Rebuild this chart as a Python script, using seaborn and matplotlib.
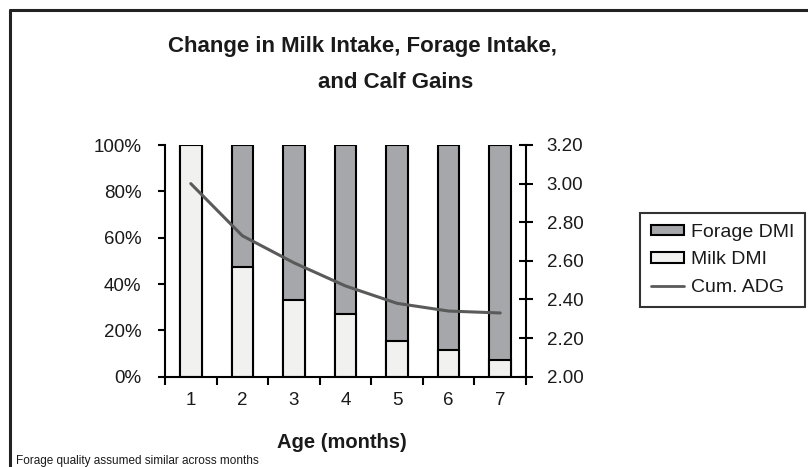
import matplotlib
matplotlib.use("Agg")
import matplotlib.pyplot as plt
import seaborn as sns
import pandas as pd
import numpy as np
from matplotlib.patches import Patch
from matplotlib.lines import Line2D

ages = ["1", "2", "3", "4", "5", "6", "7"]
milk_pct = [100, 47.5, 33, 27, 15.5, 11.5, 7]
forage_pct = [0, 52.5, 67, 73, 84.5, 88.5, 93]
cum_adg = [3.00, 2.73, 2.59, 2.47, 2.38, 2.34, 2.33]
left_ticks = [0, 20, 40, 60, 80, 100]
left_labels = ["0%", "20%", "40%", "60%", "80%", "100%"]
right_ticks = [2.00, 2.20, 2.40, 2.60, 2.80, 3.00, 3.20]

sns.set_theme(style="white")
plt.rcParams['font.family'] = ['Liberation Sans', 'DejaVu Sans']

TXT = "#1a1a1a"
FORAGE_C = "#a6a7aa"
MILK_C = "#f1f2f0"
LINE_C = "#5a5a5a"

df = pd.DataFrame({"age": ages, "milk": milk_pct, "forage": forage_pct, "adg": cum_adg})
df["total"] = df["milk"] + df["forage"]
df["pos"] = np.arange(len(ages))

fig = plt.figure(figsize=(8.08, 4.67), dpi=100)
W, H = 808, 467
ax = fig.add_axes([165 / W, (H - 376.7) / H, (526 - 165) / W, (376.7 - 145) / H])

sns.barplot(data=df, x="age", y="total", color=FORAGE_C, width=0.42,
            edgecolor="black", linewidth=1.5, ax=ax, saturation=1)
sns.barplot(data=df, x="age", y="milk", color=MILK_C, width=0.42,
            edgecolor="black", linewidth=1.5, ax=ax, saturation=1)

ax.set_ylim(0, 100)
ax.set_xlim(-0.5, len(ages) - 0.5)
ax.set_yticks(left_ticks)
ax.set_yticklabels(left_labels, fontsize=13.5, color=TXT)
ax.set_xticks(np.arange(-0.5, len(ages)), minor=False)
ax.set_xticklabels([])
ax.set_xticks(np.arange(len(ages)), minor=True)
ax.set_xticklabels(ages, minor=True, fontsize=13.5, color=TXT)
ax.tick_params(axis="x", which="major", direction="out", length=6, width=1.5, color="black", bottom=True)
ax.tick_params(axis="x", which="minor", length=0, pad=11, bottom=True)
ax.tick_params(axis="y", direction="out", length=5, width=1.5, color="black", pad=12, left=True)
ax.set_xlabel("")
ax.set_ylabel("")
for s in ["left", "bottom"]:
    ax.spines[s].set_visible(True)
    ax.spines[s].set_color("black")
    ax.spines[s].set_linewidth(1.5)
ax.spines["top"].set_visible(False)
ax.spines["right"].set_visible(False)

ax2 = ax.twinx()
sns.lineplot(data=df, x="pos", y="adg", color=LINE_C, linewidth=2.2, ax=ax2)
ax2.set_ylim(2.0, 3.2)
ax2.set_xlim(-0.5, len(ages) - 0.5)
ax2.set_yticks(right_ticks)
ax2.set_yticklabels([f"{v:.2f}" for v in right_ticks], fontsize=13.5, color=TXT)
ax2.tick_params(axis="y", direction="inout", length=10, width=1.5, color="black", pad=10, right=True)
ax2.set_ylabel("")
ax2.set_xlabel("")
ax2.spines["right"].set_visible(True)
ax2.spines["right"].set_color("black")
ax2.spines["right"].set_linewidth(1.5)
for s in ["top", "left", "bottom"]:
    ax2.spines[s].set_visible(False)

fig.text(168 / W, 1 - 52 / H, "Change in Milk Intake, Forage Intake,", fontsize=16,
         fontweight="bold", color=TXT, ha="left", va="baseline")
fig.text(318 / W, 1 - 88 / H, "and Calf Gains", fontsize=16,
         fontweight="bold", color=TXT, ha="left", va="baseline")
fig.text(342 / W, 1 - 443 / H, "Age (months)", fontsize=14.5, fontweight="bold",
         color=TXT, ha="center", va="center")
fig.text(16 / W, 1 - 464 / H, "Forage quality assumed similar across months", fontsize=8.5,
         color=TXT, ha="left", va="baseline")

handles = [Patch(facecolor=FORAGE_C, edgecolor="black", linewidth=1.5),
           Patch(facecolor=MILK_C, edgecolor="black", linewidth=1.5),
           Line2D([0], [0], color=LINE_C, linewidth=2)]
leg = fig.legend(handles, ["Forage DMI", "Milk DMI", "Cum. ADG"],
                 loc="upper left", bbox_to_anchor=(640 / W, 1 - 213 / H),
                 fontsize=14, frameon=True, fancybox=False, borderpad=0.55,
                 handlelength=1.7, handleheight=0.45, handletextpad=0.35,
                 labelspacing=0.55, borderaxespad=0)
leg.get_frame().set_edgecolor("black")
leg.get_frame().set_linewidth(1.5)
for t in leg.get_texts():
    t.set_color(TXT)

# figure border lines (top and left)
fig.add_artist(Line2D([9.5 / W, 1.0], [1 - 9.5 / H, 1 - 9.5 / H], color="#222222", linewidth=2.2,
                      transform=fig.transFigure))
fig.add_artist(Line2D([9.5 / W, 9.5 / W], [1 - 9.5 / H, 0], color="#222222", linewidth=2.2,
                      transform=fig.transFigure))

fig.savefig("out.png", dpi=100)
